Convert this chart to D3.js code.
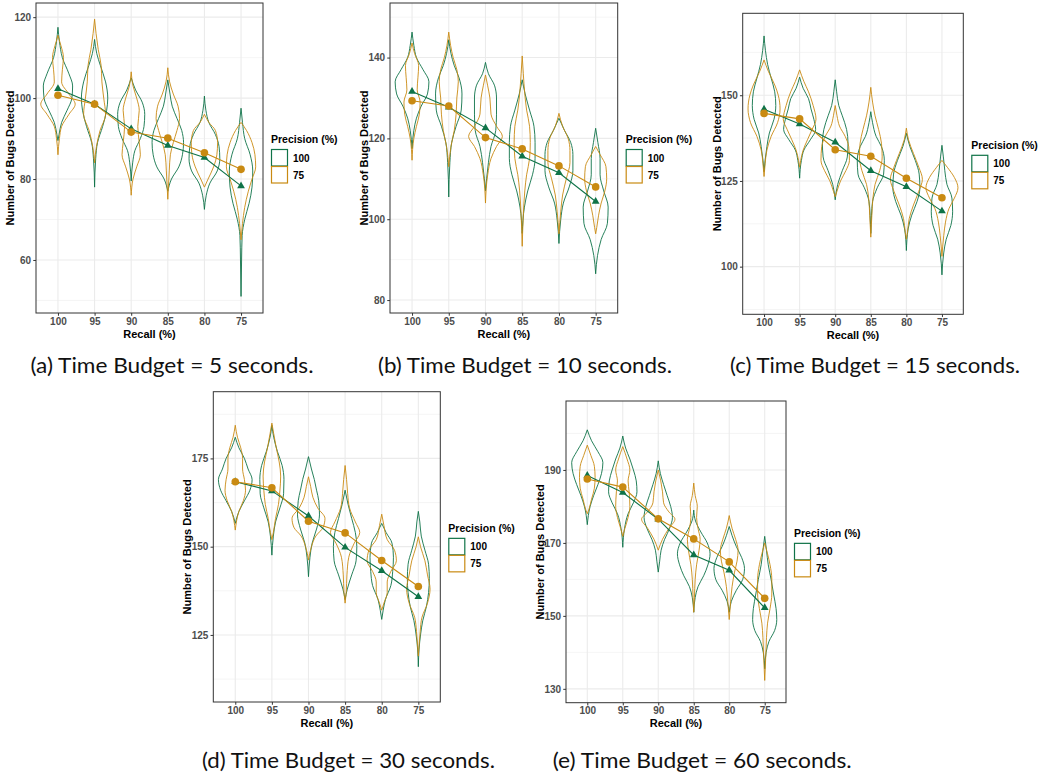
<!DOCTYPE html>
<html>
<head>
<meta charset="utf-8">
<script src="https://cdn.jsdelivr.net/npm/d3@7"></script>
<style>
  body { margin: 0; background: #fff; }
</style>
</head>
<body>
<svg id="fig" width="1044" height="775"></svg>
<script>
// categories
const recall = ["100", "95", "90", "85", "80", "75"];
const precision = ["100", "75"];
const captions = ["(a) Time Budget = 5 seconds.", "(b) Time Budget = 10 seconds.",
    "(c) Time Budget = 15 seconds.", "(d) Time Budget = 30 seconds.", "(e) Time Budget = 60 seconds."];

// y axis ticks and visible ranges, one per panel
const yTicks = [[60, 80, 100, 120], [80, 100, 120, 140], [100, 125, 150], [125, 150, 175], [130, 150, 170, 190]];
const yRanges = [[46.9, 123.5], [76.8, 153.5], [86.1, 173.9], [106, 193.9], [126.2, 208.9]];

// mean number of bugs per recall level, one row per panel
const meanP100 = [
    [102.3, 98.5, 92.4, 88.3, 85.3, 78.3],
    [131.6, 127.7, 122.6, 115.6, 111.5, 104.4],
    [145.9, 141.6, 136.3, 128, 123.3, 116.2],
    [168.4, 165.8, 158.7, 149.8, 143.2, 135.8],
    [188.5, 183.8, 176.5, 166.7, 162.5, 152.2]];
const meanP75 = [
    [100.7, 98.5, 91.6, 90.1, 86.5, 82.4],
    [129.3, 128, 120.2, 117.4, 113.2, 108],
    [144.7, 143.1, 134.1, 132.2, 125.8, 120.1],
    [168.4, 166.7, 157.2, 153.9, 146.1, 138.7],
    [187.5, 185.3, 176.6, 171.1, 164.8, 154.8]];

// violin outlines: [bugs, half width (share of category step)]
const violinP100_5 = [
    [[117.5,0],[114,0.04],[110,0.12],[106,0.3],[103,0.4],[100,0.38],[97,0.25],[94,0.1],[91,0.03],[89.5,0]],
    [[114.5,0],[111,0.06],[108,0.16],[104,0.3],[100,0.36],[97,0.33],[93,0.22],[89,0.08],[85,0.03],[78,0]],
    [[105,0],[102,0.12],[99,0.3],[96,0.37],[93,0.35],[90,0.25],[87,0.1],[84,0.04],[79.5,0]],
    [[104.5,0],[101,0.06],[98,0.12],[95,0.25],[92,0.38],[89,0.43],[86,0.4],[83,0.3],[80,0.1],[77,0]],
    [[100.5,0],[97,0.04],[94,0.12],[91,0.3],[88,0.4],[85,0.42],[82,0.35],[79,0.15],[76,0.05],[72.5,0]],
    [[97.5,0],[94,0.04],[90,0.1],[86,0.25],[82,0.32],[78,0.3],[74,0.22],[70,0.1],[66,0.03],[60,0.015],[51,0]]];
const violinP75_5 = [
    [[115.5,0],[113,0.08],[110,0.15],[107,0.12],[104,0.1],[101,0.3],[98.5,0.47],[96,0.3],[93,0.1],[90,0.04],[86,0]],
    [[119.5,0],[116,0.04],[112,0.1],[108,0.18],[104,0.2],[100,0.25],[96,0.3],[92,0.15],[88,0.05],[84,0]],
    [[106.5,0],[103,0.05],[100,0.15],[97,0.22],[93,0.18],[89,0.22],[86,0.25],[83,0.15],[80,0.05],[76,0]],
    [[107.5,0],[104,0.05],[101,0.15],[98,0.28],[95,0.32],[92,0.25],[89,0.15],[86,0.07],[82,0.04],[75,0]],
    [[96,0],[94,0.12],[92,0.3],[89,0.36],[86,0.34],[83,0.25],[80,0.1],[78,0]],
    [[94,0],[92,0.15],[89,0.3],[86,0.38],[83,0.4],[80,0.3],[77,0.2],[73,0.1],[69,0.04],[65,0]]];

const violinP100_10 = [
    [[146.3,0],[143,0.05],[140,0.12],[137,0.3],[134,0.46],[131,0.42],[128,0.25],[125,0.12],[122,0.05],[117.5,0]],
    [[144.4,0],[141,0.06],[138,0.15],[135,0.28],[131,0.36],[127,0.34],[123,0.2],[119,0.08],[114,0.03],[105.5,0]],
    [[138.8,0],[136,0.08],[133,0.25],[130,0.3],[126,0.3],[122,0.28],[118,0.15],[114,0.08],[110,0.03],[107,0]],
    [[134.5,0],[131,0.08],[127,0.2],[123,0.32],[119,0.35],[115,0.35],[111,0.28],[107,0.15],[103,0.06],[96.5,0]],
    [[125,0],[122,0.15],[119,0.32],[116,0.38],[112,0.38],[108,0.28],[104,0.12],[100,0.05],[94,0]],
    [[122.5,0],[119,0.06],[115,0.12],[111,0.12],[107,0.22],[103,0.34],[99,0.32],[95,0.15],[91,0.05],[86.5,0]]];
const violinP75_10 = [
    [[143.6,0],[141,0.07],[138,0.18],[135,0.16],[132,0.14],[129,0.22],[126,0.2],[123,0.12],[120,0.05],[114.6,0]],
    [[146.3,0],[143,0.05],[140,0.12],[137,0.22],[134,0.26],[130,0.22],[126,0.2],[122,0.15],[118,0.06],[113,0]],
    [[135.7,0],[133,0.06],[130,0.12],[126,0.15],[123,0.3],[120.5,0.46],[118,0.3],[115,0.15],[111,0.06],[104,0]],
    [[140.4,0],[136,0.03],[131,0.07],[127,0.12],[123,0.2],[119,0.22],[115,0.2],[111,0.12],[107,0.07],[101,0.03],[93.3,0]],
    [[126.2,0],[123,0.1],[120,0.25],[117,0.3],[114,0.3],[110,0.2],[106,0.1],[102,0.05],[96.4,0]],
    [[118,0],[116,0.12],[113,0.28],[110,0.3],[107,0.25],[104,0.15],[101,0.08],[98,0.03],[96.4,0]]];

const violinP100_15 = [
    [[167.3,0],[163,0.04],[159,0.1],[155,0.2],[151,0.3],[147,0.33],[143,0.28],[139,0.15],[135,0.08],[131,0.03],[127.7,0]],
    [[155.3,0],[152,0.1],[149,0.25],[146,0.32],[143,0.4],[140,0.45],[137,0.3],[134,0.12],[131,0.05],[125.8,0]],
    [[154.5,0],[151,0.04],[147,0.1],[144,0.2],[140,0.32],[136,0.36],[132,0.34],[128,0.2],[124,0.07],[119.5,0]],
    [[145.2,0],[142,0.05],[138,0.15],[135,0.3],[131,0.38],[127,0.36],[123,0.18],[119,0.05],[115,0.02],[109.7,0]],
    [[138.9,0],[135,0.1],[131,0.25],[127,0.36],[123,0.38],[119,0.3],[115,0.15],[111,0.05],[104.7,0]],
    [[135.4,0],[132,0.04],[128,0.08],[124,0.14],[120,0.28],[116,0.3],[112,0.25],[108,0.12],[104,0.05],[97.6,0]]];
const violinP75_15 = [
    [[160.3,0],[157,0.12],[153,0.3],[150,0.4],[146,0.45],[142,0.38],[138,0.2],[134,0.08],[130,0.03],[126.3,0]],
    [[157.4,0],[154,0.12],[151,0.25],[147,0.38],[143,0.46],[140,0.35],[137,0.22],[134,0.1],[131,0.03],[129,0]],
    [[147,0],[144,0.05],[141,0.12],[138,0.28],[135,0.38],[131,0.4],[128,0.3],[125,0.15],[122,0.05],[120.4,0]],
    [[152.3,0],[148,0.05],[144,0.12],[140,0.22],[136,0.3],[132,0.32],[128,0.25],[124,0.12],[120,0.06],[115,0.03],[108.6,0]],
    [[140.4,0],[137,0.06],[133,0.2],[129,0.35],[125.5,0.45],[122,0.35],[118,0.2],[114,0.08],[110,0.03],[108,0]],
    [[131,0],[129,0.15],[126,0.35],[123,0.45],[120,0.35],[117,0.2],[113,0.1],[109,0.05],[103,0]]];

const violinP100_30 = [
    [[181,0],[178,0.1],[175,0.25],[172,0.35],[169,0.46],[166,0.4],[163,0.25],[160,0.1],[156.6,0]],
    [[184.4,0],[181,0.05],[177,0.15],[173,0.28],[169,0.33],[165,0.32],[161,0.22],[157,0.1],[153,0.04],[147.6,0]],
    [[175.5,0],[172,0.08],[169,0.16],[166,0.22],[163,0.28],[159,0.3],[155,0.22],[151,0.1],[147,0.04],[141.5,0]],
    [[166,0],[162,0.08],[158,0.18],[154,0.28],[150,0.32],[146,0.3],[142,0.18],[138,0.06],[135,0]],
    [[156.6,0],[154,0.12],[151,0.28],[147,0.32],[143,0.3],[139,0.25],[135,0.1],[132,0.04],[129.4,0]],
    [[160,0],[157,0.04],[153,0.08],[149,0.18],[145,0.28],[141,0.3],[137,0.28],[133,0.22],[129,0.12],[125,0.06],[121,0.02],[116,0]]];
const violinP75_30 = [
    [[184.4,0],[181,0.06],[178,0.15],[175,0.2],[172,0.2],[169,0.25],[166,0.28],[163,0.22],[160,0.1],[154.7,0]],
    [[185,0],[182,0.05],[178,0.12],[174,0.2],[170,0.24],[166,0.22],[162,0.18],[158,0.1],[154,0.04],[152,0]],
    [[169.8,0],[167,0.06],[164,0.12],[161,0.25],[158,0.45],[155.5,0.4],[153,0.2],[150,0.08],[146.2,0]],
    [[173,0],[169,0.04],[165,0.07],[161,0.12],[157,0.28],[154,0.4],[151,0.25],[147,0.1],[142,0.05],[137,0.03],[134,0]],
    [[159.2,0],[156,0.06],[152,0.15],[149,0.35],[146,0.4],[143,0.25],[140,0.15],[137,0.15],[134,0.06],[132,0]],
    [[152.8,0],[150,0.06],[146,0.18],[142,0.25],[138,0.32],[134,0.25],[130,0.1],[126,0.05],[122,0.02],[119,0]]];

const violinP100_60 = [
    [[201,0],[198,0.12],[195,0.3],[192,0.44],[189,0.4],[186,0.3],[183,0.18],[180,0.08],[175,0]],
    [[199.3,0],[196,0.08],[193,0.2],[190,0.3],[187,0.38],[184,0.4],[181,0.3],[178,0.15],[174,0.05],[168.8,0]],
    [[192.5,0],[189,0.06],[186,0.15],[183,0.25],[180,0.35],[177,0.4],[174,0.32],[171,0.18],[168,0.08],[165,0.04],[162,0]],
    [[179,0],[176,0.05],[173,0.2],[170,0.38],[167,0.46],[164,0.4],[161,0.28],[158,0.12],[155,0.04],[151,0]],
    [[174.5,0],[172,0.08],[169,0.2],[166,0.35],[163,0.43],[160,0.38],[157,0.2],[154,0.06],[151,0]],
    [[171.8,0],[168,0.05],[164,0.1],[160,0.18],[156,0.25],[152,0.32],[149,0.34],[146,0.28],[143,0.12],[140,0.04],[135.5,0]]];
const violinP75_60 = [
    [[196.8,0],[194,0.1],[191,0.2],[188,0.22],[185,0.2],[182,0.12],[179,0.04],[178,0]],
    [[196.4,0],[193,0.12],[190,0.2],[187,0.15],[184,0.18],[180,0.2],[177,0.15],[174,0.06],[171.8,0]],
    [[190,0],[187,0.07],[184,0.12],[181,0.15],[178.5,0.3],[176.5,0.47],[174,0.3],[171,0.12],[168,0]],
    [[186.4,0],[183,0.04],[180,0.1],[177,0.08],[174,0.12],[171,0.18],[168,0.15],[164,0.08],[160,0.04],[155,0.02],[151,0]],
    [[177.5,0],[174,0.08],[171,0.18],[168,0.25],[165,0.22],[162,0.15],[158,0.08],[154,0.04],[149,0]],
    [[170,0],[167,0.08],[164,0.15],[160,0.2],[156,0.2],[152,0.15],[148,0.08],[144,0.05],[139,0.03],[132.3,0]]];

const violinsP100 = [violinP100_5, violinP100_10, violinP100_15, violinP100_30, violinP100_60];
const violinsP75 = [violinP75_5, violinP75_10, violinP75_15, violinP75_30, violinP75_60];

const color = d3.scaleOrdinal().domain(precision).range(["#0f7348", "#c98a12"]);

// panel boxes on the page (left, top, right, bottom) and caption anchor / width
const frames = [
    {l: 36, t: 3, r: 263, b: 313, capX: 172, capY: 373, capW: 283},
    {l: 390, t: 3, r: 617.7, b: 313, capX: 525, capY: 373, capW: 294},
    {l: 742.7, t: 13.3, r: 963.3, b: 314.3, capX: 875, capY: 373, capW: 290},
    {l: 213.3, t: 391.7, r: 440.3, b: 702, capX: 348.4, capY: 768, capW: 293},
    {l: 566, t: 401, r: 786, b: 702.7, capX: 702.2, capY: 768, capW: 299}];

const svg = d3.select("#fig");
const font = "'Liberation Sans', Arial, sans-serif";

frames.forEach(function (f, i) {
    var g = svg.append("g");
    var x = d3.scalePoint().domain(recall).range([f.l, f.r]).padding(0.6);
    var y = d3.scaleLinear().domain(yRanges[i]).range([f.b, f.t]);
    var step = x.step();

    // grid
    var major = yTicks[i], st = major[1] - major[0];
    var minor = [major[0] - st / 2].concat(major.map(t => t + st / 2))
        .filter(v => v > yRanges[i][0] && v < yRanges[i][1]);
    g.selectAll(".minor").data(minor).join("line")
        .attr("x1", f.l).attr("x2", f.r)
        .attr("y1", d => y(d)).attr("y2", d => y(d))
        .style("stroke", "#f0f0f0").style("stroke-width", 0.7);
    g.selectAll(".major").data(major).join("line")
        .attr("x1", f.l).attr("x2", f.r)
        .attr("y1", d => y(d)).attr("y2", d => y(d))
        .style("stroke", "#ebebeb").style("stroke-width", 1.1);
    g.selectAll(".vgrid").data(recall).join("line")
        .attr("x1", d => x(d)).attr("x2", d => x(d))
        .attr("y1", f.t).attr("y2", f.b)
        .style("stroke", "#ebebeb").style("stroke-width", 1.1);

    // violins
    [[violinsP100[i], "100"], [violinsP75[i], "75"]].forEach(function (pair) {
        g.selectAll(null).data(pair[0]).join("path")
            .attr("d", function (prof, j) {
                var cx = x(recall[j]);
                return d3.area()
                    .curve(d3.curveMonotoneY)
                    .y(d => y(d[0]))
                    .x0(d => cx - d[1] * step)
                    .x1(d => cx + d[1] * step)(prof);
            })
            .style("fill", "none")
            .style("stroke", color(pair[1]))
            .style("stroke-width", 0.9);
    });

    // mean lines and points
    var line = d3.line().x((d, j) => x(recall[j])).y(d => y(d));
    g.append("path").datum(meanP100[i]).attr("d", line)
        .style("fill", "none").style("stroke", color("100")).style("stroke-width", 1.1);
    g.append("path").datum(meanP75[i]).attr("d", line)
        .style("fill", "none").style("stroke", color("75")).style("stroke-width", 1.1);
    g.selectAll(".tri").data(meanP100[i]).join("path")
        .attr("transform", (d, j) => "translate(" + x(recall[j]) + "," + y(d) + ")")
        .attr("d", d3.symbol(d3.symbolTriangle, 26))
        .style("fill", color("100"));
    g.selectAll(".dot").data(meanP75[i]).join("circle")
        .attr("cx", (d, j) => x(recall[j])).attr("cy", d => y(d)).attr("r", 3.8)
        .style("fill", color("75"));

    // border
    g.append("rect").attr("x", f.l).attr("y", f.t)
        .attr("width", f.r - f.l).attr("height", f.b - f.t)
        .style("fill", "none").style("stroke", "#333333").style("stroke-width", 1);

    // axes
    var ya = g.append("g").attr("transform", "translate(" + f.l + ",0)")
        .call(d3.axisLeft(y).tickValues(major).tickSize(2.75).tickPadding(2.2))
        .call(a => a.select(".domain").remove());
    var xa = g.append("g").attr("transform", "translate(0," + f.b + ")")
        .call(d3.axisBottom(x).tickSize(2.75).tickPadding(1.8))
        .call(a => a.select(".domain").remove());
    [ya, xa].forEach(function (a) {
        a.attr("font-family", font).attr("font-size", 10);
        a.selectAll("line").style("stroke", "#333333");
        a.selectAll("text").style("fill", "#4d4d4d").style("font-weight", "bold");
    });

    // axis titles
    g.append("text")
        .attr("transform", "translate(" + (f.l - 22) + "," + ((f.t + f.b) / 2) + ") rotate(-90)")
        .attr("text-anchor", "middle")
        .text("Number of Bugs Detected")
        .style("font-family", font).style("font-size", "11px").style("font-weight", "bold");
    g.append("text")
        .attr("x", (f.l + f.r) / 2).attr("y", f.b + 24.5)
        .attr("text-anchor", "middle")
        .text("Recall (%)")
        .style("font-family", font).style("font-size", "11px").style("font-weight", "bold");

    // legend
    var lx = f.r + 8, cy = (f.t + f.b) / 2;
    g.append("text").attr("x", lx).attr("y", cy - 15)
        .text("Precision (%)")
        .style("font-family", font).style("font-size", "10.5px").style("font-weight", "bold");
    precision.forEach(function (p, k) {
        g.append("rect")
            .attr("x", lx + 0.5).attr("y", cy - 8.5 + k * 17)
            .attr("width", 16).attr("height", 16.5)
            .style("fill", "#fff").style("stroke", color(p)).style("stroke-width", 1.2);
        g.append("text").attr("x", lx + 22).attr("y", cy + 3.5 + k * 17)
            .text(p)
            .style("font-family", font).style("font-size", "10px").style("font-weight", "bold");
    });

    // caption
    svg.append("text").attr("x", f.capX).attr("y", f.capY)
        .attr("text-anchor", "middle")
        .attr("textLength", f.capW).attr("lengthAdjust", "spacingAndGlyphs")
        .text(captions[i])
        .style("font-family", "Lato, 'Open Sans', sans-serif").style("font-size", "21px")
        .style("fill", "#111");
});
</script>
</body>
</html>
